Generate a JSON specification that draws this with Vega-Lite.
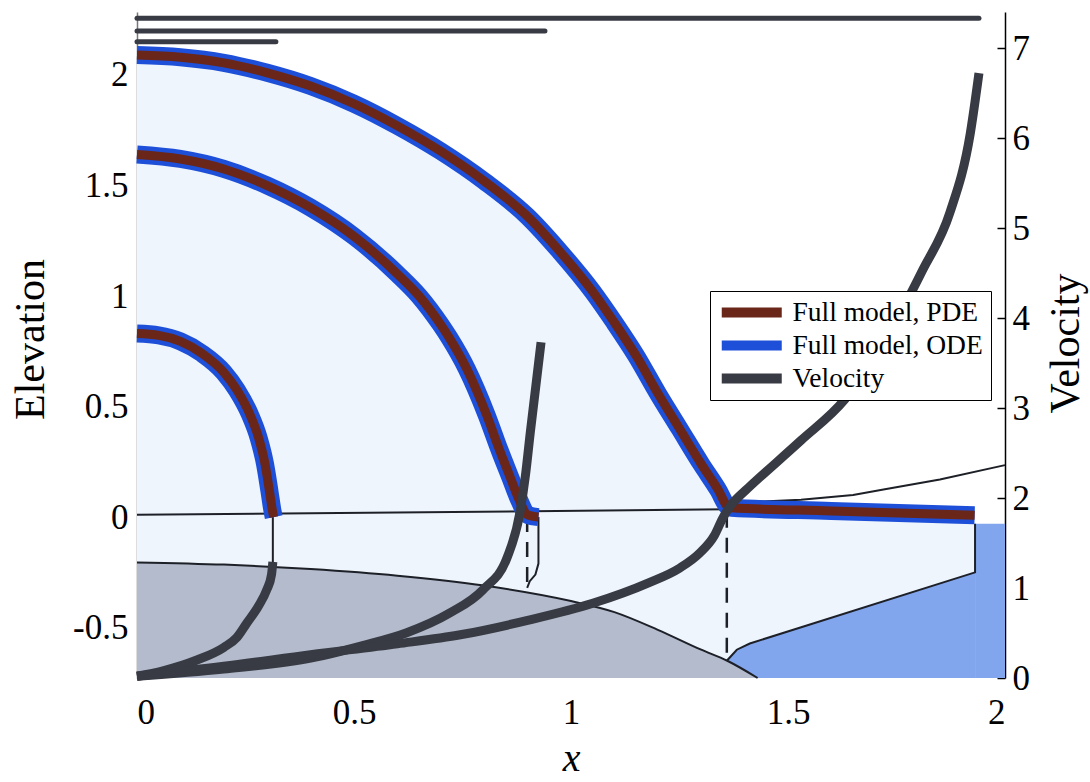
{
  "$schema": "https://vega.github.io/schema/vega-lite/v6.json",
  "width": 868,
  "height": 666,
  "autosize": {"type": "none"},
  "padding": {"left": 137, "top": 12, "right": 85, "bottom": 104},
  "background": "white",
  "config": {
    "view": {"stroke": null},
    "font": "Liberation Serif",
    "axis": {
      "grid": false,
      "labelFont": "Liberation Serif",
      "titleFont": "Liberation Serif",
      "labelColor": "black",
      "titleColor": "black",
      "titleFontWeight": "normal",
      "labelFontSize": 35,
      "titleFontSize": 42
    },
    "legend": {
      "labelFont": "Liberation Serif",
      "labelFontSize": 27.5,
      "labelColor": "black",
      "symbolType": "M-2,0H10",
      "symbolSize": 100,
      "symbolStrokeWidth": 10,
      "strokeColor": "black",
      "fillColor": "white",
      "padding": 8,
      "rowPadding": 5,
      "labelOffset": 47,
      "symbolOffset": 0,
      "clipHeight": 27,
      "labelLimit": 400
    }
  },
  "datasets": {
    "arcs": [
      {"curve": "c1", "x": 0, "e": 0.83},
      {"curve": "c1", "x": 0.05, "e": 0.822},
      {"curve": "c1", "x": 0.1, "e": 0.795},
      {"curve": "c1", "x": 0.15, "e": 0.74},
      {"curve": "c1", "x": 0.2, "e": 0.655},
      {"curve": "c1", "x": 0.23, "e": 0.575},
      {"curve": "c1", "x": 0.26, "e": 0.465},
      {"curve": "c1", "x": 0.28, "e": 0.36},
      {"curve": "c1", "x": 0.295, "e": 0.24},
      {"curve": "c1", "x": 0.305, "e": 0.12},
      {"curve": "c1", "x": 0.312, "e": 0.03},
      {"curve": "c1", "x": 0.315, "e": 0.0},
      {"curve": "c2", "x": 0, "e": 1.64},
      {"curve": "c2", "x": 0.1, "e": 1.62},
      {"curve": "c2", "x": 0.2, "e": 1.575},
      {"curve": "c2", "x": 0.3, "e": 1.5},
      {"curve": "c2", "x": 0.4, "e": 1.4},
      {"curve": "c2", "x": 0.5, "e": 1.27},
      {"curve": "c2", "x": 0.6, "e": 1.1},
      {"curve": "c2", "x": 0.65, "e": 1.0},
      {"curve": "c2", "x": 0.7, "e": 0.87},
      {"curve": "c2", "x": 0.72, "e": 0.81},
      {"curve": "c2", "x": 0.76, "e": 0.67},
      {"curve": "c2", "x": 0.806, "e": 0.46},
      {"curve": "c2", "x": 0.836, "e": 0.3},
      {"curve": "c2", "x": 0.86, "e": 0.18},
      {"curve": "c2", "x": 0.88, "e": 0.08},
      {"curve": "c2", "x": 0.9, "e": 0.01},
      {"curve": "c2", "x": 0.925, "e": 0.0},
      {"curve": "c3", "x": 0, "e": 2.09},
      {"curve": "c3", "x": 0.1, "e": 2.08},
      {"curve": "c3", "x": 0.2, "e": 2.055},
      {"curve": "c3", "x": 0.3, "e": 2.01},
      {"curve": "c3", "x": 0.4, "e": 1.95},
      {"curve": "c3", "x": 0.5, "e": 1.87},
      {"curve": "c3", "x": 0.6, "e": 1.77},
      {"curve": "c3", "x": 0.7, "e": 1.655},
      {"curve": "c3", "x": 0.8, "e": 1.52},
      {"curve": "c3", "x": 0.9, "e": 1.36},
      {"curve": "c3", "x": 0.975, "e": 1.2},
      {"curve": "c3", "x": 1.05, "e": 1.02},
      {"curve": "c3", "x": 1.1, "e": 0.88},
      {"curve": "c3", "x": 1.15, "e": 0.73},
      {"curve": "c3", "x": 1.2, "e": 0.56},
      {"curve": "c3", "x": 1.25, "e": 0.4},
      {"curve": "c3", "x": 1.3, "e": 0.24},
      {"curve": "c3", "x": 1.34, "e": 0.12},
      {"curve": "c3", "x": 1.36, "e": 0.05},
      {"curve": "c3", "x": 1.37, "e": 0.042},
      {"curve": "c3", "x": 1.6, "e": 0.028},
      {"curve": "c3", "x": 1.93, "e": 0.008}
    ],
    "ground": [
      {"x": 0, "e": -0.205},
      {"x": 0.2, "e": -0.215},
      {"x": 0.4, "e": -0.235},
      {"x": 0.6, "e": -0.265},
      {"x": 0.8, "e": -0.31},
      {"x": 1.0, "e": -0.38},
      {"x": 1.1, "e": -0.43},
      {"x": 1.2, "e": -0.51},
      {"x": 1.3, "e": -0.6},
      {"x": 1.36, "e": -0.65},
      {"x": 1.43, "e": -0.728}
    ],
    "water": [
      {"x": 1.359, "e": -0.65},
      {"x": 1.382, "e": -0.6},
      {"x": 1.412, "e": -0.572},
      {"x": 1.6, "e": -0.455},
      {"x": 1.8, "e": -0.33},
      {"x": 1.931, "e": -0.25}
    ],
    "pool": [
      {"x": 1.931, "e": -0.03},
      {"x": 2.0, "e": -0.03}
    ],
    "guides": [
      {"line": "zero", "i": 0, "x": 0, "e": 0.01},
      {"line": "zero", "i": 1, "x": 1.36, "e": 0.035},
      {"line": "g1", "i": 0, "x": 0.313, "e": 0.0},
      {"line": "g1", "i": 1, "x": 0.313, "e": -0.208},
      {"line": "g2", "i": 0, "x": 0.925, "e": 0.0},
      {"line": "g2", "i": 1, "x": 0.925, "e": -0.21},
      {"line": "g2", "i": 2, "x": 0.918, "e": -0.26},
      {"line": "g2", "i": 3, "x": 0.905, "e": -0.29},
      {"line": "g2", "i": 4, "x": 0.899, "e": -0.32},
      {"line": "shelf", "i": 0, "x": 1.359, "e": -0.65},
      {"line": "shelf", "i": 1, "x": 1.382, "e": -0.6},
      {"line": "shelf", "i": 2, "x": 1.412, "e": -0.572},
      {"line": "shelf", "i": 3, "x": 1.931, "e": -0.25},
      {"line": "shelf", "i": 4, "x": 1.931, "e": -0.03},
      {"line": "rise", "i": 0, "x": 1.37, "e": 0.065},
      {"line": "rise", "i": 1, "x": 1.53, "e": 0.078},
      {"line": "rise", "i": 2, "x": 1.65, "e": 0.1},
      {"line": "rise", "i": 3, "x": 1.72, "e": 0.125},
      {"line": "rise", "i": 4, "x": 1.85, "e": 0.17},
      {"line": "rise", "i": 5, "x": 2.0, "e": 0.235}
    ],
    "dashes": [
      {"line": "d1", "i": 0, "x": 0.899, "e": 0.0},
      {"line": "d1", "i": 1, "x": 0.899, "e": -0.32},
      {"line": "d2", "i": 0, "x": 1.359, "e": 0.02},
      {"line": "d2", "i": 1, "x": 1.359, "e": -0.65}
    ],
    "velocity": [
      {"curve": "A", "x": 0, "v": 0.02},
      {"curve": "A", "x": 0.06, "v": 0.08},
      {"curve": "A", "x": 0.138, "v": 0.2},
      {"curve": "A", "x": 0.2, "v": 0.34},
      {"curve": "A", "x": 0.23, "v": 0.45},
      {"curve": "A", "x": 0.253, "v": 0.61},
      {"curve": "A", "x": 0.28, "v": 0.8},
      {"curve": "A", "x": 0.299, "v": 0.98},
      {"curve": "A", "x": 0.31, "v": 1.15},
      {"curve": "A", "x": 0.313, "v": 1.29},
      {"curve": "B", "x": 0, "v": 0.02},
      {"curve": "B", "x": 0.2, "v": 0.1},
      {"curve": "B", "x": 0.4, "v": 0.22},
      {"curve": "B", "x": 0.52, "v": 0.36},
      {"curve": "B", "x": 0.62, "v": 0.5},
      {"curve": "B", "x": 0.72, "v": 0.72},
      {"curve": "B", "x": 0.797, "v": 0.98},
      {"curve": "B", "x": 0.853, "v": 1.34},
      {"curve": "B", "x": 0.882, "v": 1.83},
      {"curve": "B", "x": 0.895, "v": 2.25},
      {"curve": "B", "x": 0.906, "v": 2.72},
      {"curve": "B", "x": 0.931, "v": 3.73},
      {"curve": "C", "x": 0, "v": 0.02},
      {"curve": "C", "x": 0.2, "v": 0.13},
      {"curve": "C", "x": 0.4, "v": 0.26},
      {"curve": "C", "x": 0.6, "v": 0.38},
      {"curve": "C", "x": 0.745, "v": 0.48},
      {"curve": "C", "x": 0.9, "v": 0.64},
      {"curve": "C", "x": 1.05, "v": 0.83},
      {"curve": "C", "x": 1.18, "v": 1.06},
      {"curve": "C", "x": 1.25, "v": 1.22},
      {"curve": "C", "x": 1.297, "v": 1.39},
      {"curve": "C", "x": 1.33, "v": 1.58},
      {"curve": "C", "x": 1.35, "v": 1.78},
      {"curve": "C", "x": 1.37, "v": 1.93},
      {"curve": "C", "x": 1.39, "v": 2.03},
      {"curve": "C", "x": 1.41, "v": 2.12},
      {"curve": "C", "x": 1.53, "v": 2.64},
      {"curve": "C", "x": 1.63, "v": 3.09},
      {"curve": "C", "x": 1.72, "v": 3.72},
      {"curve": "C", "x": 1.81, "v": 4.53},
      {"curve": "C", "x": 1.873, "v": 5.17},
      {"curve": "C", "x": 1.92, "v": 6.05},
      {"curve": "C", "x": 1.94, "v": 6.72}
    ],
    "fronts": [
      {"curve": "T1", "x": 0, "v": 7.33},
      {"curve": "T1", "x": 1.94, "v": 7.33},
      {"curve": "T2", "x": 0, "v": 7.19},
      {"curve": "T2", "x": 0.94, "v": 7.19},
      {"curve": "T3", "x": 0, "v": 7.07},
      {"curve": "T3", "x": 0.32, "v": 7.07}
    ]
  },
  "resolve": {"scale": {"y": "independent"}},
  "layer": [
    {
      "encoding": {
        "x": {
          "field": "x",
          "type": "quantitative",
          "scale": {"domain": [0, 2], "nice": false, "zero": false},
          "axis": {
            "values": [0, 0.5, 1, 1.5, 2],
            "format": "~g",
            "domain": false,
            "ticks": false,
            "labelPadding": 45,
            "labelBaseline": "alphabetic",
            "title": "x",
            "titleFontStyle": "italic",
            "titleFontSize": 40,
            "titleBaseline": "alphabetic",
            "titleY": 92
          }
        },
        "y": {
          "field": "e",
          "type": "quantitative",
          "scale": {"domain": [-0.728, 2.285], "nice": false, "zero": false},
          "axis": {
            "orient": "left",
            "values": [-0.5, 0, 0.5, 1, 1.5, 2],
            "format": "~g",
            "labelExpr": "replace(datum.label, '\u2212', '-')",
            "domainColor": "#777777",
            "domainWidth": 1.5,
            "ticks": false,
            "labelPadding": 9,
            "title": "Elevation",
            "titleAngle": -90,
            "titleBaseline": "middle",
            "titleAlign": "center",
            "titleX": -107,
            "titleY": 327
          }
        }
      },
      "layer": [
        {
          "data": {"name": "arcs"},
          "transform": [{"filter": "datum.curve === 'c3'"}],
          "mark": {"type": "area", "color": "#eef5fc", "interpolate": "monotone"},
          "encoding": {"y2": {"datum": -0.728}}
        },
        {
          "data": {"name": "water"},
          "mark": {"type": "area", "color": "#82a6ee"},
          "encoding": {"y2": {"datum": -0.728}}
        },
        {
          "data": {"name": "pool"},
          "mark": {"type": "area", "color": "#82a6ee"},
          "encoding": {"y2": {"datum": -0.728}}
        },
        {
          "data": {"name": "ground"},
          "mark": {"type": "area", "color": "#b3bbcc", "interpolate": "monotone"},
          "encoding": {"y2": {"datum": -0.728}}
        },
        {
          "data": {"name": "ground"},
          "mark": {"type": "line", "color": "#1e2028", "strokeWidth": 2, "interpolate": "monotone"},
          "encoding": {}
        },
        {
          "data": {"name": "guides"},
          "mark": {"type": "line", "color": "#1e2028", "strokeWidth": 2},
          "encoding": {
            "detail": {"field": "line"},
            "order": {"field": "i", "type": "quantitative"}
          }
        },
        {
          "data": {"name": "dashes"},
          "mark": {"type": "line", "color": "#1e2028", "strokeWidth": 2.5, "strokeDash": [15, 10]},
          "encoding": {
            "detail": {"field": "line"},
            "order": {"field": "i", "type": "quantitative"}
          }
        },
        {
          "data": {"name": "arcs"},
          "mark": {"type": "line", "strokeWidth": 18, "strokeCap": "butt", "strokeJoin": "round", "interpolate": "monotone"},
          "encoding": {
            "detail": {"field": "curve"},
            "color": {
              "datum": "Full model, ODE",
              "scale": {
                "domain": ["Full model, PDE", "Full model, ODE", "Velocity"],
                "range": ["#6a2618", "#1e4fd8", "#383b44"]
              },
              "legend": {
                "title": null,
                "orient": "none",
                "legendX": 573,
                "legendY": 279
              }
            }
          }
        },
        {
          "data": {"name": "arcs"},
          "mark": {"type": "line", "strokeWidth": 9, "strokeCap": "butt", "strokeJoin": "round", "interpolate": "monotone"},
          "encoding": {
            "detail": {"field": "curve"},
            "color": {"datum": "Full model, PDE"}
          }
        }
      ]
    },
    {
      "encoding": {
        "x": {"field": "x", "type": "quantitative"},
        "y": {
          "field": "v",
          "type": "quantitative",
          "scale": {"domain": [0, 7.4], "nice": false, "zero": false},
          "axis": {
            "orient": "right",
            "values": [0, 1, 2, 3, 4, 5, 6, 7],
            "format": "~g",
            "domainColor": "black",
            "domainWidth": 1.5,
            "tickColor": "black",
            "tickWidth": 1.5,
            "tickSize": -8,
            "labelPadding": 15,
            "title": "Velocity",
            "titleAngle": -90,
            "titleBaseline": "middle",
            "titleAlign": "center",
            "titleX": 60,
            "titleY": 331
          }
        }
      },
      "layer": [
        {
          "data": {"name": "fronts"},
          "mark": {"type": "line", "strokeWidth": 5, "strokeCap": "round"},
          "encoding": {
            "detail": {"field": "curve"},
            "color": {"datum": "Velocity"}
          }
        },
        {
          "data": {"name": "velocity"},
          "mark": {"type": "line", "strokeWidth": 9, "strokeCap": "butt", "strokeJoin": "round", "interpolate": "monotone"},
          "encoding": {
            "detail": {"field": "curve"},
            "color": {"datum": "Velocity"}
          }
        }
      ]
    }
  ]
}
